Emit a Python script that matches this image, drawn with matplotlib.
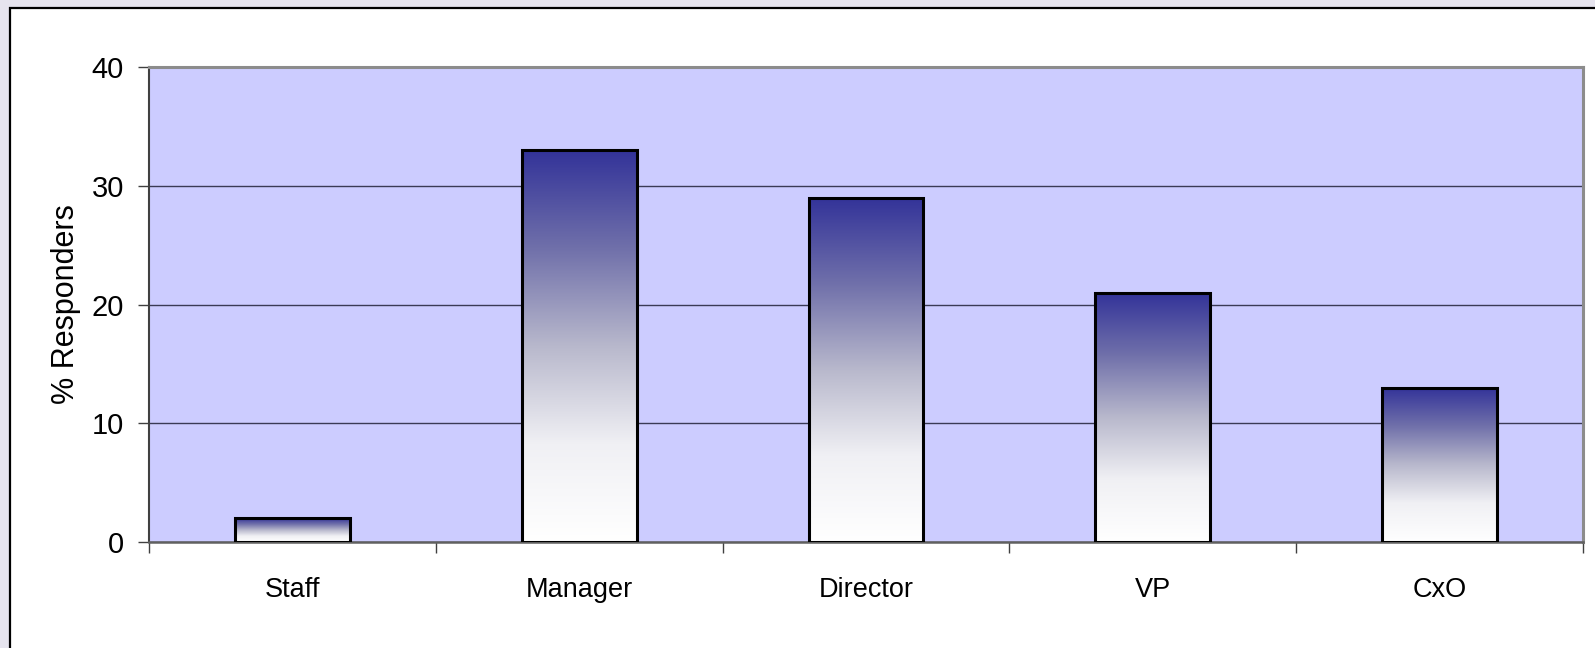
import matplotlib
matplotlib.use("Agg")
import matplotlib.pyplot as plt
import numpy as np
from matplotlib.colors import LinearSegmentedColormap
from matplotlib.patches import Rectangle

plt.rcParams["font.family"] = ["Liberation Sans", "DejaVu Sans"]

categories = ["Staff", "Manager", "Director", "VP", "CxO"]
responders = [2, 33, 29, 21, 13]
y_ticks = [0, 10, 20, 30, 40]

W, H = 1595, 648
fig = plt.figure(figsize=(W / 100, H / 100), dpi=100)
fig.patch.set_facecolor("#E6E4EE")

# white inner panel with black border (runs off right/bottom edges)
fig.patches.append(Rectangle((9.5 / W, -0.05), 1.1, 1 - 7.5 / H + 0.05,
                             transform=fig.transFigure, facecolor="white",
                             edgecolor="black", linewidth=1.6, zorder=0))

ax = fig.add_axes([149 / W, 1 - 542 / H, (1583 - 149) / W, (542 - 67) / H])
ax.set_facecolor("#CCCCFF")
ax.set_zorder(1)

grad = LinearSegmentedColormap.from_list(
    "bar", [(0.0, "#FFFFFF"), (0.25, "#F0F0F4"), (0.5, "#B8B8CC"),
            (0.75, "#7070AA"), (1.0, "#333399")])
ramp = np.linspace(0, 1, 256).reshape(-1, 1)

x = np.arange(len(categories))
width = 0.4
bars = ax.bar(x, responders, width=width, facecolor="none", edgecolor="black",
              linewidth=2.2, zorder=4)
for b in bars:
    x0, y0, w, h = b.get_x(), b.get_y(), b.get_width(), b.get_height()
    ax.imshow(ramp, cmap=grad, origin="lower", aspect="auto",
              extent=(x0, x0 + w, y0, y0 + h), zorder=3, interpolation="bilinear")

ax.set_xlim(-0.5, len(categories) - 0.5)
ax.set_ylim(0, 40)
ax.set_yticks(y_ticks)
ax.yaxis.grid(True, color="#3A3A55", linewidth=1.0)
ax.set_axisbelow(True)

ax.set_xticks(x)
ax.set_xticklabels(categories, fontsize=19.5)
ax.tick_params(axis="x", which="major", length=0, pad=25)
ax.set_xticks(np.arange(-0.5, len(categories)), minor=True)
ax.tick_params(axis="x", which="minor", length=8, width=1, color="#404040")
ax.tick_params(axis="y", labelsize=21, length=8, width=1, color="#404040", pad=10)

ax.set_ylabel("% Responders", fontsize=22, labelpad=8)

for side in ("top", "right"):
    ax.spines[side].set_color("#8C8C8C")
    ax.spines[side].set_linewidth(2.2)
ax.spines["left"].set_color("#404040")
ax.spines["left"].set_linewidth(1.5)
ax.spines["bottom"].set_color("#606060")
ax.spines["bottom"].set_linewidth(1.8)

fig.savefig("out.png", dpi=100, facecolor=fig.get_facecolor())
